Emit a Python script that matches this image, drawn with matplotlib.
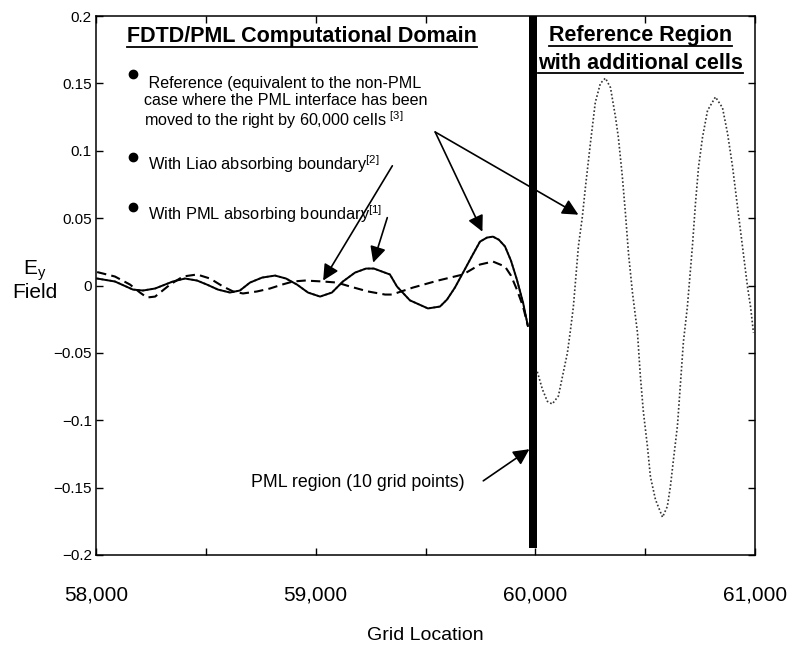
import numpy as np
import matplotlib
matplotlib.use("Agg")
import matplotlib.pyplot as plt
from matplotlib.lines import Line2D

plt.rcParams['font.family'] = ['Liberation Sans', 'DejaVu Sans']
plt.rcParams['mathtext.fontset'] = 'custom'
plt.rcParams['mathtext.rm'] = 'Liberation Sans'
plt.rcParams['mathtext.it'] = 'Liberation Sans:italic'

# E_y along the grid, with the PML absorbing boundary (solid)
pml_x = [58005, 58086, 58168, 58214, 58269, 58350, 58405, 58460, 58505, 58555,
         58610, 58655, 58701, 58756, 58815, 58865, 58915, 58965, 59020, 59074,
         59124, 59179, 59229, 59265, 59338, 59370, 59429, 59511, 59566, 59598,
         59634, 59671, 59712, 59748, 59780, 59807, 59834, 59862, 59889, 59916,
         59944, 59966]
pml_y = [0.0052, 0.003, -0.003, -0.0037, -0.0022, 0.003, 0.0052, 0.0037, 0.0007, -0.003,
         -0.0052, -0.0037, 0.0022, 0.0059, 0.0074, 0.0052, 0.0007, -0.0052, -0.0082, -0.0052,
         0.003, 0.0096, 0.0126, 0.0126, 0.0082, -0.0007, -0.011, -0.017, -0.0156, -0.0104,
         -0.0015, 0.0096, 0.022, 0.0326, 0.0356, 0.0363, 0.034, 0.029, 0.0185, 0.0044,
         -0.0126, -0.030]

# with the Liao absorbing boundary (dashed)
liao_x = [58005, 58086, 58155, 58200, 58232, 58269, 58337, 58396, 58460, 58519,
          58578, 58624, 58669, 58733, 58792, 58847, 58897, 58951, 59033, 59097,
          59156, 59238, 59316, 59347, 59443, 59557, 59671, 59748, 59807, 59862,
          59889, 59916, 59944, 59966]
liao_y = [0.0100, 0.0067, 0.0007, -0.0052, -0.0089, -0.0082, 0.0007, 0.0067, 0.0082, 0.0052,
          -0.0007, -0.0044, -0.0059, -0.0044, -0.0022, 0.0007, 0.003, 0.0037, 0.003, 0.0022,
          -0.0007, -0.0044, -0.0067, -0.0067, -0.0015, 0.0037, 0.0082, 0.0156, 0.0178, 0.0141,
          0.0074, -0.003, -0.0156, -0.030]

# reference run in the extra cells beyond the PML interface (dotted)
ref_x = [60009, 60032, 60055, 60077, 60105, 60128, 60146, 60160, 60173, 60196,
         60214, 60228, 60251, 60273, 60296, 60319, 60342, 60365, 60378, 60396,
         60410, 60424, 60442, 60465, 60478, 60492, 60510, 60524, 60547, 60579,
         60601, 60615, 60629, 60647, 60661, 60674, 60692, 60715, 60729, 60743,
         60761, 60784, 60820, 60852, 60875, 60898, 60920, 60943, 60966, 60980,
         60993]
ref_y = [-0.064, -0.077, -0.086, -0.088, -0.082, -0.064, -0.050, -0.033, -0.016, 0.029,
         0.051, 0.073, 0.106, 0.136, 0.150, 0.154, 0.147, 0.125, 0.110, 0.081,
         0.054, 0.024, -0.005, -0.035, -0.067, -0.094, -0.119, -0.142, -0.159, -0.172,
         -0.164, -0.149, -0.129, -0.104, -0.072, -0.042, -0.016, 0.029, 0.061, 0.088,
         0.110, 0.130, 0.140, 0.132, 0.113, 0.088, 0.059, 0.029, -0.001, -0.016,
         -0.035]

pml_lo, pml_hi = 59972, 60008

x_ticks = [58000, 58500, 59000, 59500, 60000, 60500, 61000]
x_labels = ['58,000', '', '59,000', '', '60,000', '', '61,000']
y_ticks = [-0.2, -0.15, -0.1, -0.05, 0, 0.05, 0.1, 0.15, 0.2]
y_labels = ['\u22120.2', '\u22120.15', '\u22120.1', '\u22120.05', '0', '0.05', '0.1', '0.15', '0.2']

fig = plt.figure(figsize=(7.89, 6.46), dpi=100)
ax = fig.add_axes([0.1217, 0.141, 0.8352, 0.834])

# reference overlaps the PML run inside the domain
ax.plot(pml_x, pml_y, color='#666666', ls=(0, (1, 1.2)), lw=1.4)
ax.plot(pml_x, pml_y, color='black', lw=1.4)
ax.plot(liao_x, liao_y, color='black', lw=1.5, ls=(0, (4.5, 2.5)))
ax.plot(ref_x, ref_y, color='#333333', lw=1.2, ls=(0, (1, 1.3)))
ax.axvspan(pml_lo, pml_hi, ymin=0.012, ymax=1, color='black', lw=0)

ax.set_xlim(58000, 61000)
ax.set_ylim(-0.2, 0.2)
ax.set_xticks(x_ticks, x_labels, fontsize=15)
ax.set_yticks(y_ticks, y_labels, fontsize=11)
ax.tick_params(direction='in', length=5, width=1, top=True, right=True)
ax.tick_params(axis='x', pad=22)
ax.tick_params(axis='y', pad=3)
for s in ax.spines.values():
    s.set_linewidth(1.1)

ax.set_xlabel('Grid Location', fontsize=14, labelpad=16)
ax.set_ylabel('E$_\\mathrm{y}$\nField', fontsize=15, rotation=0, ha='center', va='center',
              linespacing=1.0)
ax.yaxis.set_label_coords(-0.093, 0.51)

# headings (underlined)
heads = [
    ax.text(58936, 0.1805, 'FDTD/PML Computational Domain', fontsize=15.5,
            fontweight='bold', ha='center', va='baseline'),
    ax.text(60478, 0.1815, 'Reference Region', fontsize=15.5,
            fontweight='bold', ha='center', va='baseline'),
    ax.text(60478, 0.161, 'with additional cells', fontsize=15.5,
            fontweight='bold', ha='center', va='baseline'),
]

# bullets
ax.plot([58169, 58169, 58169], [0.157, 0.0956, 0.0585], ls='none', marker='o',
        ms=6, color='black')
ax.text(58219, 0.1555,
        ' Reference (equivalent to the non-PML\n'
        'case where the PML interface has been\n'
        'moved to the right by 60,000 cells $^{[3]}$',
        fontsize=11.6, va='top', linespacing=1.12)
ax.text(58237, 0.086, 'With Liao absorbing boundary$^{[2]}$', fontsize=11.8, va='baseline')
ax.text(58237, 0.049, 'With PML absorbing boundary$^{[1]}$', fontsize=11.8, va='baseline')
ax.text(58705, -0.1497, 'PML region (10 grid points)', fontsize=12.8, va='baseline')

arrow = dict(arrowstyle='-|>,head_length=0.6,head_width=0.3', color='black', lw=1.2,
             mutation_scale=16, shrinkA=0, shrinkB=0)
ax.annotate('', xy=(59759, 0.040), xytext=(59544, 0.114), arrowprops=arrow)
ax.annotate('', xy=(60196, 0.0526), xytext=(59544, 0.114), arrowprops=arrow)
ax.annotate('', xy=(59034, 0.0037), xytext=(59349, 0.0889), arrowprops=arrow)
ax.annotate('', xy=(59262, 0.017), xytext=(59326, 0.0504), arrowprops=arrow)
ax.annotate('', xy=(59973, -0.1215), xytext=(59763, -0.145), arrowprops=arrow)

fig.canvas.draw()
r = fig.canvas.get_renderer()
for t in heads:
    bb = t.get_window_extent(r)
    _, base = ax.transData.transform((0, t.get_position()[1]))
    yb = base - 4.5
    fig.add_artist(Line2D([bb.x0, bb.x1], [yb, yb], transform=None, color='black', lw=1.3))

fig.savefig('out.png', dpi=100)
